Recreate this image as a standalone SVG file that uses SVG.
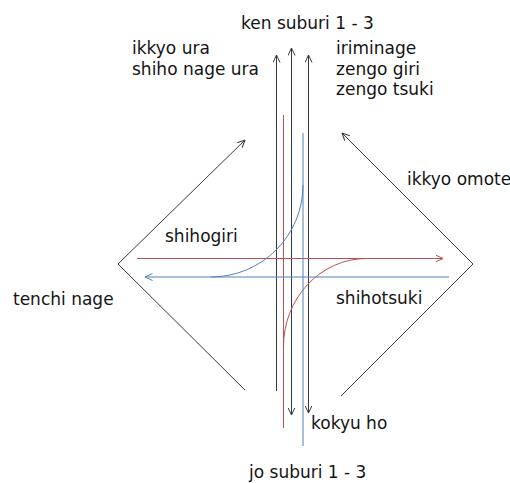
<svg xmlns="http://www.w3.org/2000/svg" width="510" height="483" viewBox="0 0 510 483">
<style>
  .lbl { font-family: "DejaVu Sans", sans-serif; font-size: 17px; fill: #141414; }
  .k { stroke: #3a3a3a; stroke-width: 1; fill: none; }
  .r { stroke: #c0504d; stroke-width: 1; fill: none; }
  .b { stroke: #4f81bd; stroke-width: 1; fill: none; }
</style>
<defs>
  <marker id="ak" viewBox="0 0 8 8" refX="7.5" refY="4" markerWidth="8" markerHeight="8" markerUnits="userSpaceOnUse" orient="auto-start-reverse">
    <path d="M0,0.5 L7.5,4 L0,7.5" fill="none" stroke="#3a3a3a" stroke-width="1"/>
  </marker>
  <marker id="ar" viewBox="0 0 8 8" refX="7.5" refY="4" markerWidth="8" markerHeight="8" markerUnits="userSpaceOnUse" orient="auto-start-reverse">
    <path d="M0,0.5 L7.5,4 L0,7.5" fill="none" stroke="#c0504d" stroke-width="1"/>
  </marker>
  <marker id="ab" viewBox="0 0 8 8" refX="7.5" refY="4" markerWidth="8" markerHeight="8" markerUnits="userSpaceOnUse" orient="auto-start-reverse">
    <path d="M0,0.5 L7.5,4 L0,7.5" fill="none" stroke="#4f81bd" stroke-width="1"/>
  </marker>
</defs>
<rect width="510" height="483" fill="#ffffff"/>
<g id="connectors">
  <!-- diamond -->
  <line class="k" x1="118" y1="264" x2="245" y2="140" marker-end="url(#ak)"/>
  <line class="k" x1="118" y1="264" x2="245" y2="390"/>
  <line class="k" x1="473" y1="264" x2="342" y2="133" marker-end="url(#ak)"/>
  <line class="k" x1="473" y1="264" x2="341" y2="396"/>
  <!-- black verticals -->
  <line class="k" x1="276.5" y1="391" x2="276.5" y2="55" marker-end="url(#ak)"/>
  <line class="k" x1="291.5" y1="415" x2="291.5" y2="48" marker-start="url(#ak)" marker-end="url(#ak)"/>
  <line class="k" x1="308.5" y1="413" x2="308.5" y2="55" marker-start="url(#ak)" marker-end="url(#ak)"/>
  <!-- red -->
  <line class="r" x1="283.5" y1="115" x2="283.5" y2="428"/>
  <line class="r" x1="137" y1="258.5" x2="443" y2="258.5" marker-end="url(#ar)"/>
  <path class="r" d="M366,258.5 A83,88 0 0 0 283.5,347"/>
  <!-- blue -->
  <line class="b" x1="303" y1="133" x2="303" y2="446"/>
  <line class="b" x1="449" y1="277" x2="145" y2="277" marker-end="url(#ab)"/>
  <path class="b" d="M303,185 A92,92 0 0 1 211,277"/>
</g>
<g id="ken-suburi"><text class="lbl" x="241" y="29">ken suburi 1 - 3</text></g>
<g id="ikkyo-ura"><text class="lbl" x="132" y="54">ikkyo ura</text><text class="lbl" x="132" y="75">shiho nage ura</text></g>
<g id="iriminage"><text class="lbl" x="336" y="54">iriminage</text><text class="lbl" x="336" y="75">zengo giri</text><text class="lbl" x="336" y="95">zengo tsuki</text></g>
<g id="ikkyo-omote"><text class="lbl" x="407" y="185">ikkyo omote</text></g>
<g id="shihogiri"><text class="lbl" x="165" y="242">shihogiri</text></g>
<g id="shihotsuki"><text class="lbl" x="336" y="304">shihotsuki</text></g>
<g id="tenchi-nage"><text class="lbl" x="13" y="305">tenchi nage</text></g>
<g id="kokyu-ho"><text class="lbl" x="311" y="429">kokyu ho</text></g>
<g id="jo-suburi"><text class="lbl" x="249" y="478">jo suburi 1 - 3</text></g>
</svg>
